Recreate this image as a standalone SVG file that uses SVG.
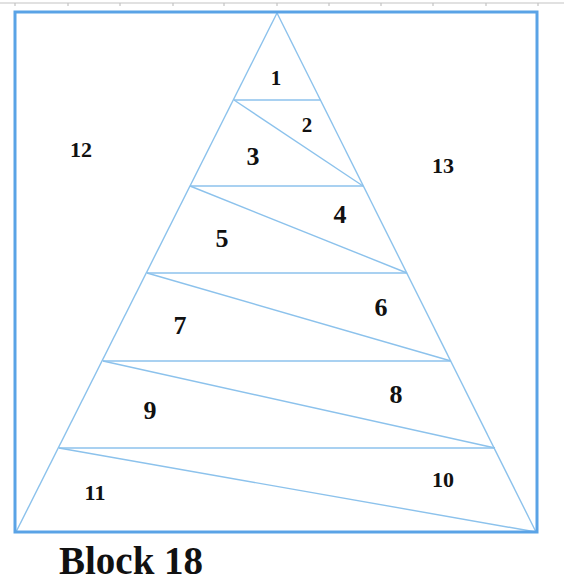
<svg xmlns="http://www.w3.org/2000/svg" width="564" height="585" viewBox="0 0 564 585">
<style>
.ruler{stroke:#c4c4c4;stroke-width:1.2;fill:none}
.frame{stroke:#5aa3e6;stroke-width:3;fill:none}
.seam{stroke:#8cc2ec;stroke-width:1.4;fill:none}
.num{font-family:"Liberation Serif",serif;font-weight:bold;font-size:21px;fill:#111;text-anchor:middle}
.big{font-size:26px}
.wide{font-size:22px}
.title{font-family:"Liberation Serif",serif;font-weight:bold;font-size:39px;fill:#111}
</style>
<rect width="564" height="585" fill="#ffffff"/>
<g id="ruler">
<line class="ruler" x1="0" y1="3" x2="564" y2="3"/>
<path class="ruler" d="M15 3v3M68 3v3M120 3v3M173 3v3M224 3v3M277 3v3M329 3v3M381 3v3M433 3v3M486 3v3M538 3v3"/>
</g>
<g id="connectors">
<line class="seam" x1="277" y1="13" x2="16" y2="532"/>
<line class="seam" x1="277" y1="13" x2="536" y2="532"/>
<line class="seam" x1="234" y1="100" x2="321" y2="100"/>
<line class="seam" x1="190" y1="186" x2="363" y2="186"/>
<line class="seam" x1="147" y1="273" x2="407" y2="273"/>
<line class="seam" x1="103" y1="361" x2="451" y2="361"/>
<line class="seam" x1="59" y1="448" x2="495" y2="448"/>
<line class="seam" x1="234" y1="100" x2="363" y2="186"/>
<line class="seam" x1="190" y1="186" x2="407" y2="273"/>
<line class="seam" x1="147" y1="273" x2="451" y2="361"/>
<line class="seam" x1="103" y1="361" x2="495" y2="448"/>
<line class="seam" x1="59" y1="448" x2="536" y2="532"/>
</g>
<g id="frame"><rect class="frame" x="15" y="12" width="522" height="520"/></g>
<g id="p1"><text class="num" x="276" y="85">1</text></g>
<g id="p2"><text class="num" x="307" y="132">2</text></g>
<g id="p3"><text class="num big" x="253" y="165">3</text></g>
<g id="p4"><text class="num big" x="340" y="223">4</text></g>
<g id="p5"><text class="num big" x="222" y="247">5</text></g>
<g id="p6"><text class="num big" x="381" y="316">6</text></g>
<g id="p7"><text class="num big" x="180" y="334">7</text></g>
<g id="p8"><text class="num big" x="396" y="403">8</text></g>
<g id="p9"><text class="num big" x="150" y="419">9</text></g>
<g id="p10"><text class="num wide" x="443" y="487">10</text></g>
<g id="p11"><text class="num wide" x="95" y="500">11</text></g>
<g id="p12"><text class="num wide" x="81" y="157">12</text></g>
<g id="p13"><text class="num wide" x="443" y="173">13</text></g>
<g id="title"><text class="title" x="59" y="574">Block 18</text></g>
</svg>
